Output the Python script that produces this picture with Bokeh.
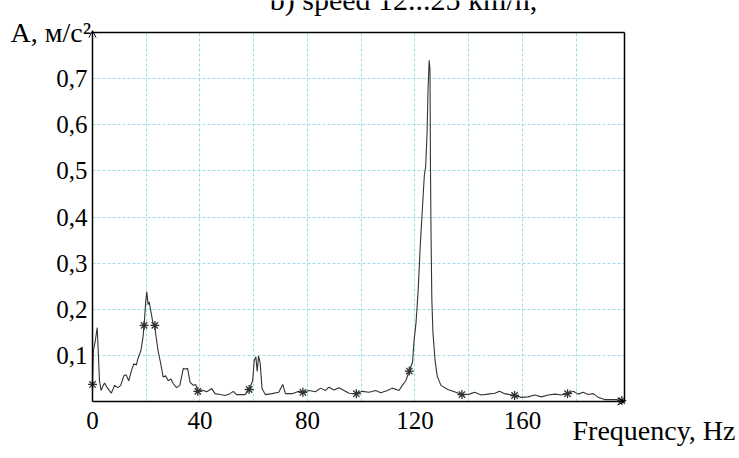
from bokeh.plotting import figure
from bokeh.models import Range1d, FixedTicker, Label, Arrow, OpenHead, LinearAxis
from bokeh.embed import file_html
from bokeh.resources import INLINE

# ---- data ----
freq = [0, 0.3, 1.0, 1.75, 2.2, 2.6, 3.2, 4.0, 4.5, 5.5, 7.0, 8.2, 9.5, 10.5, 11.7, 12.5,
        13.5, 14.5, 15.4, 16.3, 16.9, 18.0, 18.8, 19.2, 19.8, 20.2, 20.7, 21.1, 21.9, 22.5,
        23.2, 23.5, 24.4, 25.4, 26.3, 27.2, 28.2, 29.2, 30.0, 31.3, 32.5, 33.8, 34.6, 35.4,
        36.3, 37.5, 38.4, 39.2, 40.7, 42.5, 44.4, 45.6, 47.5, 49.3, 51.2, 52.4, 53.6, 56.8,
        58.3, 59.6, 60.2, 60.8, 61.3, 61.8, 62.4, 63.1, 64.3, 66.8, 69.3, 70.8, 71.8, 74.3,
        76.8, 78.3, 80.5, 83.0, 84.9, 86.7, 88.0, 89.9, 91.7, 93.6, 95.5, 98.2, 100.4, 102.9,
        105.4, 107.3, 109.8, 111.6, 114.1, 115.3, 116.6, 117.9, 119.1, 119.7, 120.4, 121.2,
        122.0, 122.8, 123.5, 124.0, 124.5, 124.9, 125.3, 125.6, 125.8, 126.0, 126.3, 126.7,
        127.5, 128.3, 128.7, 129.7, 132.2, 134.7, 137.5, 140.3, 142.2, 144.7, 147.2, 149.7,
        151.5, 153.4, 157.1, 159.6, 162.1, 164.6, 167.1, 169.6, 172.1, 174.5, 176.8, 178.9,
        180.8, 182.6, 184.5, 186.4, 188.2, 190.8, 195.0, 197.0]
amp = [0.037, 0.11, 0.13, 0.16, 0.10, 0.045, 0.024, 0.035, 0.04, 0.03, 0.018, 0.035, 0.03,
       0.035, 0.056, 0.058, 0.045, 0.067, 0.082, 0.079, 0.093, 0.11, 0.14, 0.165, 0.216,
       0.238, 0.21, 0.216, 0.19, 0.17, 0.165, 0.148, 0.11, 0.082, 0.053, 0.056, 0.045, 0.049,
       0.039, 0.03, 0.035, 0.072, 0.070, 0.072, 0.042, 0.035, 0.037, 0.022, 0.025, 0.021,
       0.028, 0.017, 0.015, 0.013, 0.017, 0.022, 0.015, 0.015, 0.026, 0.045, 0.089, 0.097,
       0.065, 0.099, 0.083, 0.028, 0.015, 0.017, 0.020, 0.037, 0.017, 0.017, 0.022, 0.020,
       0.024, 0.021, 0.029, 0.024, 0.031, 0.025, 0.030, 0.024, 0.018, 0.017, 0.022, 0.020,
       0.024, 0.019, 0.024, 0.029, 0.024, 0.035, 0.045, 0.066, 0.085, 0.133, 0.17, 0.24,
       0.34, 0.42, 0.49, 0.51, 0.58, 0.68, 0.74, 0.72, 0.50, 0.36, 0.22, 0.15, 0.089, 0.055,
       0.049, 0.035, 0.026, 0.021, 0.015, 0.016, 0.020, 0.014, 0.016, 0.018, 0.022, 0.017,
       0.013, 0.009, 0.010, 0.014, 0.010, 0.014, 0.016, 0.014, 0.017, 0.022, 0.016, 0.020,
       0.015, 0.017, 0.009, 0.004, 0.004, 0.002]

star_freq = [0, 19.2, 23.2, 39.2, 58.3, 78.3, 98.2, 117.9, 137.5, 157.1, 176.8, 197.0]
star_amp = [0.037, 0.165, 0.165, 0.022, 0.026, 0.020, 0.017, 0.066, 0.015, 0.013, 0.017, 0.002]

x_ticks = [0, 40, 80, 120, 160]
x_grid = [20, 40, 60, 80, 100, 120, 140, 160, 180]
y_ticks = [0.1, 0.2, 0.3, 0.4, 0.5, 0.6, 0.7]
y_tick_labels = ["0,1", "0,2", "0,3", "0,4", "0,5", "0,6", "0,7"]

title_text = "b) speed 12...25 km/h,"
y_label = "A, м/с²"
x_label = "Frequency, Hz"

X_MAX = 198
Y_MAX = 0.8
SERIF = "'Liberation Serif', 'Times New Roman', serif"

# ---- layout (pixels) ----
W, H = 737, 456
FL, FT, FR, FB = 92, 32, 624, 401   # data box edges on the canvas
kx = (FR - FL) / X_MAX
ky = (FB - FT) / Y_MAX
x_lo, x_hi = -FL / kx, X_MAX + (W - FR) / kx
y_lo, y_hi = -(H - FB) / ky, Y_MAX + FT / ky

p = figure(width=W, height=H, output_backend="svg", toolbar_location=None,
           x_range=Range1d(x_lo, x_hi), y_range=Range1d(y_lo, y_hi),
           min_border=0)
p.background_fill_color = "white"
p.border_fill_color = "white"
p.outline_line_color = None


def style_axis(ax, size="25px"):
    ax.axis_line_color = "black"
    ax.axis_line_width = 1.5
    ax.major_tick_out = 0
    ax.major_tick_in = 0
    ax.minor_tick_out = 0
    ax.minor_tick_in = 0
    ax.major_label_text_font = SERIF
    ax.major_label_text_font_size = size
    ax.major_label_text_color = "black"


xa = p.xaxis[0]
ya = p.yaxis[0]
style_axis(xa)
style_axis(ya)
xa.fixed_location = 0
xa.bounds = (0, X_MAX)
xa.ticker = FixedTicker(ticks=x_ticks)
xa.major_label_standoff = 10
ya.fixed_location = 0
ya.bounds = (0, Y_MAX)
ya.ticker = FixedTicker(ticks=y_ticks)
ya.major_label_overrides = {t: l for t, l in zip(y_ticks, y_tick_labels)}
ya.major_label_standoff = 5

# top and right border of the data box
top_ax = LinearAxis(fixed_location=Y_MAX, bounds=(0, X_MAX), ticker=FixedTicker(ticks=[]))
right_ax = LinearAxis(fixed_location=X_MAX, bounds=(0, Y_MAX), ticker=FixedTicker(ticks=[]))
for ax in (top_ax, right_ax):
    style_axis(ax, "0px")
p.add_layout(top_ax, "above")
p.add_layout(right_ax, "right")

p.xgrid.ticker = FixedTicker(ticks=x_grid)
p.ygrid.ticker = FixedTicker(ticks=y_ticks)
for g, b, cb in ((p.xgrid[0], (0, X_MAX), (0, Y_MAX)), (p.ygrid[0], (0, Y_MAX), (0, X_MAX))):
    g.grid_line_color = "#9fdde6"
    g.grid_line_dash = "3 2"
    g.grid_line_width = 1
    g.bounds = b
    try:
        g.cross_bounds = cb
    except AttributeError:
        pass

p.line(freq, amp, line_color="#333333", line_width=1.1)
p.scatter(star_freq, star_amp, marker="asterisk", size=9, line_color="#333333", line_width=1.3)

# axis arrows
p.add_layout(Arrow(x_start=0, y_start=Y_MAX - 0.02, x_end=0, y_end=Y_MAX + 0.004,
                   end=OpenHead(size=7, line_color="black", line_width=1),
                   line_color="black", line_width=1))
p.add_layout(Arrow(x_start=X_MAX - 4, y_start=0, x_end=X_MAX, y_end=0,
                   end=OpenHead(size=7, line_color="black", line_width=1),
                   line_color="black", line_width=1))

p.add_layout(Label(x=10, y=32, x_units="canvas", y_units="canvas", text=y_label,
                   text_font=SERIF, text_font_size="28px", text_color="black",
                   text_baseline="middle", text_align="left"))
p.add_layout(Label(x=735, y=430, x_units="canvas", y_units="canvas", text=x_label,
                   text_font=SERIF, text_font_size="28px", text_color="black",
                   text_baseline="middle", text_align="right"))
p.add_layout(Label(x=403, y=-1, x_units="canvas", y_units="canvas", text=title_text,
                   text_font=SERIF, text_font_size="30px", text_color="black",
                   text_baseline="middle", text_align="center"))

open("out.html", "w").write(file_html(p, INLINE))
